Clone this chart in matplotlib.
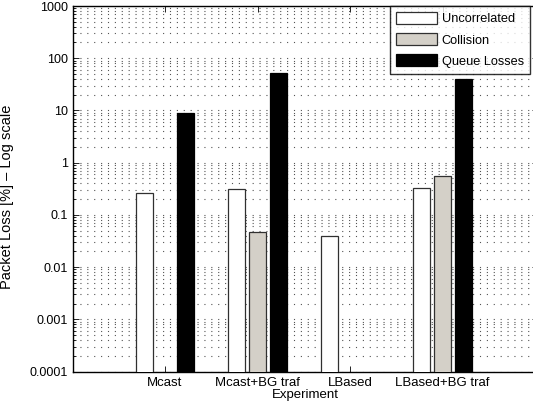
import matplotlib
matplotlib.use("Agg")
import matplotlib.pyplot as plt
import numpy as np
from matplotlib.ticker import FixedLocator, NullFormatter

plt.rcParams['font.family'] = ['Liberation Sans', 'DejaVu Sans']

categories = ["Mcast", "Mcast+BG traf", "LBased", "LBased+BG traf"]
series_names = ["Uncorrelated", "Collision", "Queue Losses"]
uncorrelated = [0.267, 0.31, 0.040, 0.333]
collision = [np.nan, 0.0465, np.nan, 0.55]
queue_losses = [9.1, 53.0, np.nan, 39.5]
ytick_labels = ["0.0001", "0.001", "0.01", "0.1", "1", "10", "100", "1000"]

colors = ["white", "#d4d0c8", "black"]
edges = ["#303030", "#303030", "black"]

L, R, T, B = 72.5, 537.5, 6.0, 371.5
fig = plt.figure(figsize=(5.33, 4.09), dpi=100)
ax = fig.add_axes([L / 533, 1 - B / 409, (R - L) / 533, (B - T) / 409])

x = np.arange(1, len(categories) + 1)
offset = 0.222
width = 0.184
for i, (vals, name) in enumerate(zip([uncorrelated, collision, queue_losses], series_names)):
    ax.bar(x + (i - 1) * offset, vals, width=width, bottom=1e-5, color=colors[i],
           edgecolor=edges[i], linewidth=0.9, label=name, zorder=3)

ax.set_yscale('log')
ax.set_ylim(1e-4, 1e3)
ax.set_xlim(0, 5 * (R - L) / (535 - L))
yt = [10.0 ** k for k in range(-4, 4)]
ax.yaxis.set_major_locator(FixedLocator(yt))
ax.set_yticklabels(ytick_labels)
minors = [m * 10.0 ** k for k in range(-4, 3) for m in range(2, 10)]
ax.yaxis.set_minor_locator(FixedLocator(minors))
ax.yaxis.set_minor_formatter(NullFormatter())
ax.set_xticks(x)
ax.set_xticklabels(categories)

ax.tick_params(axis='both', which='both', direction='in', top=True, right=True,
               colors='black')
ax.tick_params(axis='y', which='major', labelsize=9, pad=3.5)
ax.tick_params(axis='x', which='major', labelsize=9.5, pad=4)
ax.tick_params(axis='both', which='major', length=4, width=0.6)
ax.tick_params(axis='y', which='minor', length=2, width=0.6)

ax.set_axisbelow(True)
ax.grid(True, axis='y', which='both', color='#555555', linewidth=0.8,
        linestyle=(0, (1, 5.2)))
ax.grid(False, axis='x')

for s in ax.spines.values():
    s.set_linewidth(1.0)
    s.set_color('black')

ax.set_ylabel("Packet Loss [%] – Log scale", fontsize=10.5)
ax.yaxis.set_label_coords((14 - L) / (R - L), 1 - (196.5 - T) / (B - T))
ax.set_xlabel("Experiment", fontsize=9.5, labelpad=0)

leg = ax.legend(loc='upper left', bbox_to_anchor=((390 - L) / (R - L), 1.0),
                fontsize=9.2, frameon=True, fancybox=False, shadow=False,
                handlelength=3.2, handleheight=1.0, handletextpad=0.35,
                borderpad=0.5, labelspacing=0.62, borderaxespad=0)
leg.get_frame().set_edgecolor('black')
leg.get_frame().set_linewidth(1.0)

fig.savefig("out.png", dpi=100)
